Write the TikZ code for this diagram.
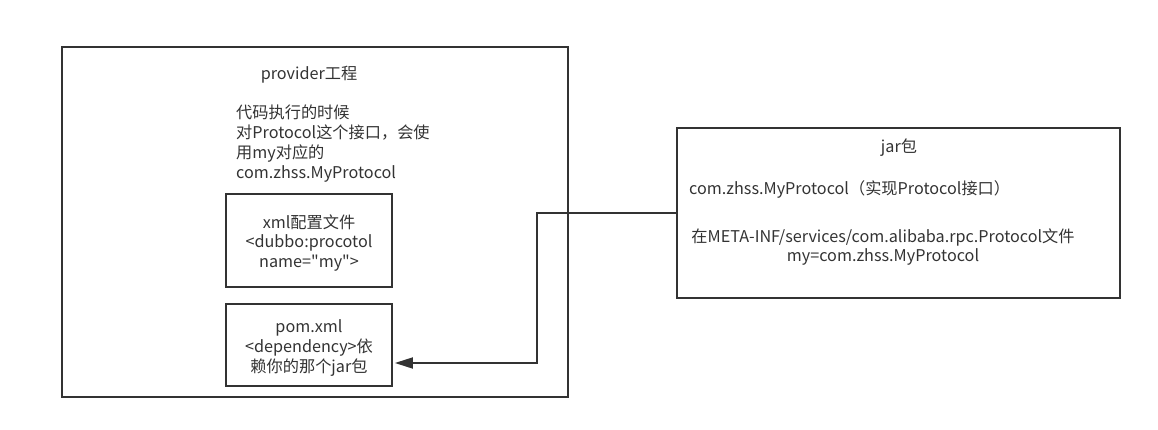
\documentclass[tikz,border=0pt]{standalone}
\usepackage{fontspec}
\setmainfont{Noto Sans CJK SC}[Ligatures=TeXOff]
\usetikzlibrary{arrows.meta}
\definecolor{linec}{HTML}{333333}
\definecolor{textc}{HTML}{333333}
\tikzset{
  box/.style={draw=linec, line width=1.8pt, rectangle, inner sep=0pt},
  lbl/.style={text=textc, font=\fontsize{16.2}{19.8}\selectfont, inner sep=0pt},
  conn/.style={draw=linec, line width=1.8pt, shorten >=2pt, -{Triangle[length=18pt,width=11pt]}}
}
\begin{document}
\begin{tikzpicture}[x=1pt,y=-1pt]
\useasboundingbox (0,0) rectangle (1158,430);
\node[box, minimum width=506pt, minimum height=350pt] (provider) at (315,222) {};
\node[box, minimum width=166pt, minimum height=93pt] (xml) at (309,240.5) {};
\node[box, minimum width=166pt, minimum height=82pt] (pom) at (309,345) {};
\node[box, minimum width=443pt, minimum height=170pt] (jar) at (898.5,213) {};

\node[lbl] (ptitle) at (309,75) {provider工程};
\node[lbl, align=left, anchor=north west] (pdesc) at (236,105) {代码执行的时候\\对Protocol这个接口，会使\\用my对应的\\com.zhss.MyProtocol};
\node[lbl, align=center] (xmltext) at (309,243) {xml配置文件\\<dubbo:procotol\\name="my">};
\node[lbl, align=center] (pomtext) at (309,348) {pom.xml\\<dependency>依\\赖你的那个jar包};
\node[lbl] (jartitle) at (899,148) {jar包};
\node[lbl, anchor=west] (jarimpl) at (689,189) {com.zhss.MyProtocol（实现Protocol接口）};
\node[lbl, align=center] (jarspi) at (883,247) {在META-INF/services/com.alibaba.rpc.Protocol文件\\my=com.zhss.MyProtocol};

\draw[conn] (jar.west) -- ++(-139,0) |- ([yshift=-18pt]pom.east);
\end{tikzpicture}
\end{document}
